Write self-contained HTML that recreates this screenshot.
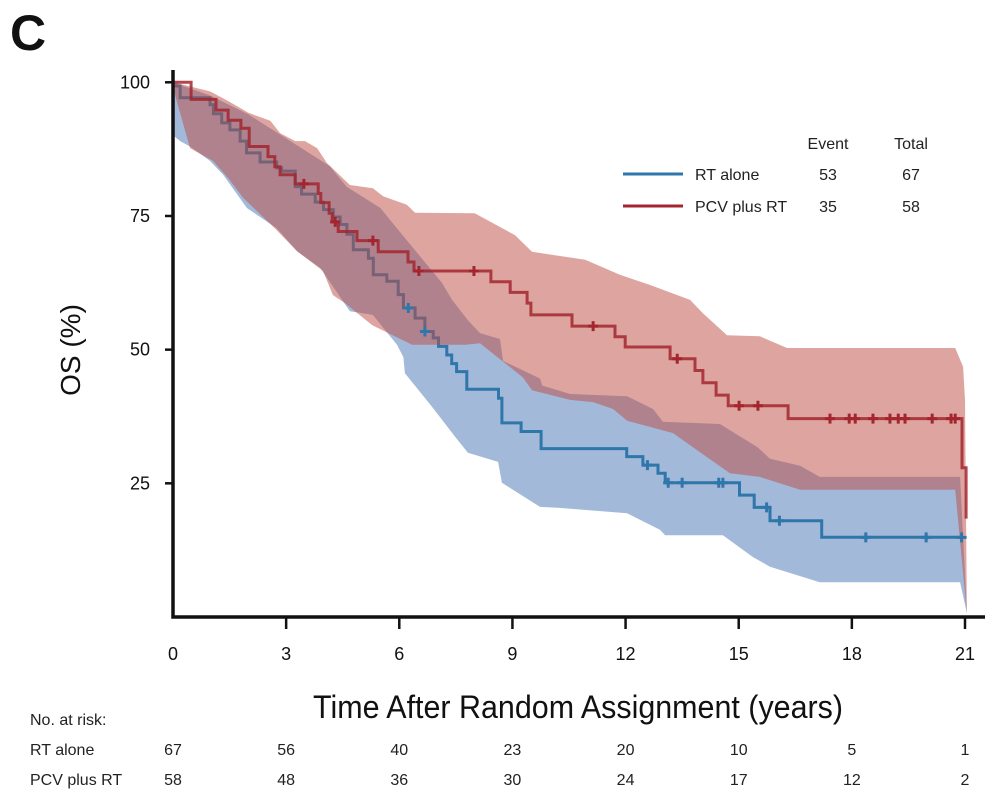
<!DOCTYPE html>
<html><head><meta charset="utf-8">
<style>
html,body{margin:0;padding:0;background:#fff;}
svg{display:block;font-family:"Liberation Sans",Arial,sans-serif;}
</style></head>
<body>
<svg id="chart" width="994" height="798" viewBox="0 0 994 798" xmlns="http://www.w3.org/2000/svg">
<text x="10" y="50" font-size="50" font-weight="bold" fill="#111">C</text>
<g id="plot"></g>
<g id="axes"></g>
<text transform="translate(80,350) rotate(-90)" text-anchor="middle" font-size="28" fill="#111">OS (%)</text>
<text x="313" y="718" font-size="32" fill="#111" textLength="530" lengthAdjust="spacingAndGlyphs">Time After Random Assignment (years)</text>
<g font-size="16" fill="#222">
<text x="828" y="149" text-anchor="middle">Event</text>
<text x="911" y="149" text-anchor="middle">Total</text>
<line x1="623" y1="174" x2="683" y2="174" stroke="#2f77aa" stroke-width="3"/>
<text x="695" y="180">RT alone</text>
<text x="828" y="180" text-anchor="middle">53</text>
<text x="911" y="180" text-anchor="middle">67</text>
<line x1="623" y1="206" x2="683" y2="206" stroke="#a3262f" stroke-width="3"/>
<text x="695" y="212">PCV plus RT</text>
<text x="828" y="212" text-anchor="middle">35</text>
<text x="911" y="212" text-anchor="middle">58</text>
</g>
<g id="risk" font-size="16" fill="#222">
<text x="30" y="725">No. at risk:</text>
<text x="30" y="755">RT alone</text>
<text x="30" y="785">PCV plus RT</text>
</g>
</svg>
<script>
const xTicks=[0,3,6,9,12,15,18,21];
const yTicks=[25,50,75,100];
const riskRT=[67,56,40,23,20,10,5,1];
const riskPCV=[58,48,36,30,24,17,12,2];
// Kaplan-Meier steps: [time, survival after drop]
const redSteps=[[0,100],[0.48,96.8],[1.14,94.8],[1.46,92.9],[1.80,91.4],[2.02,88.0],[2.52,86.1],[2.70,84.2],[2.84,82.7],[3.24,81.0],[3.85,79.2],[3.92,77.5],[4.14,75.5],[4.22,73.9],[4.38,72.1],[4.88,70.4],[5.44,68.3],[6.23,66.4],[6.39,64.7],[8.43,62.7],[8.94,60.7],[9.39,58.7],[9.49,56.5],[10.58,54.4],[11.72,52.4],[11.99,50.5],[13.18,48.3],[13.84,46.1],[14.05,43.8],[14.40,41.5],[14.72,39.5],[16.31,37.1],[20.92,27.9],[21.03,18.4]];
const redEnd=21.03;
const redCensor=[3.47,4.30,5.30,6.52,7.98,11.14,13.37,15.01,15.51,17.42,17.93,18.09,18.56,19.01,19.23,19.41,20.13,20.63,20.74];
const blueSteps=[[0,100],[0.01,99.3],[0.19,97.1],[0.98,95.8],[1.07,94.1],[1.29,92.4],[1.51,91.1],[1.78,89.0],[1.95,86.8],[2.31,85.1],[2.75,84.0],[2.88,83.4],[3.24,80.5],[3.41,79.1],[3.77,77.6],[3.99,76.2],[4.25,74.8],[4.43,73.4],[4.61,71.6],[4.78,68.7],[5.18,67.1],[5.31,64.0],[5.67,62.8],[5.97,60.3],[6.11,57.8],[6.42,55.9],[6.68,53.4],[6.90,52.2],[7.04,50.6],[7.26,49.0],[7.39,47.4],[7.52,45.9],[7.79,42.6],[8.63,40.9],[8.72,36.3],[9.23,34.7],[9.76,31.5],[12.03,30.0],[12.46,28.4],[12.86,26.9],[13.05,25.1],[15.02,22.8],[15.41,20.5],[15.83,18.0],[17.20,14.9]];
const blueEnd=20.95;
const blueCensor=[6.24,6.68,12.58,13.13,13.50,14.47,14.58,15.74,16.08,18.37,19.97,20.91];
// confidence bands [time, value]
const redUpper=[[0,100],[0.98,98.3],[1.46,96.5],[2.0,94.3],[2.58,92.8],[2.84,90.5],[3.24,89.0],[3.5,89.0],[3.82,87.7],[4.08,84.9],[4.69,80.8],[5.3,80.2],[5.57,78.7],[6.2,77.1],[6.42,75.6],[8.0,75.5],[9.07,71.4],[9.52,68.3],[10.93,66.8],[11.85,64.0],[12.65,62.1],[13.71,59.3],[14.05,56.8],[14.69,52.7],[15.56,52.5],[16.28,50.3],[20.74,50.3],[20.95,46.8],[21.0,40.6],[21.05,0.7]];
const redLower=[[0,99],[0.45,87.7],[1.06,85.3],[1.46,82.1],[1.86,78.4],[2.70,72.7],[3.29,68.4],[3.98,64.7],[4.24,60.2],[4.56,58.7],[5.28,54.6],[6.34,50.9],[7.75,50.9],[8.14,51.2],[9.28,44.8],[9.52,42.4],[10.53,40.6],[11.14,40.2],[11.67,38.9],[12.04,36.7],[13.26,34.4],[13.9,31.2],[14.77,26.9],[15.56,26.2],[16.63,23.8],[20.74,23.8],[21.05,0.7]];
const blueUpper=[[0,100],[1.0,97.5],[2.0,94.0],[3.0,89.5],[4.16,84.3],[4.6,80.5],[5.5,76.5],[5.97,72.4],[7.13,62.5],[7.40,59.3],[7.82,55.5],[8.14,53.1],[8.67,52.0],[8.75,47.9],[9.73,44.6],[9.79,43.3],[10.53,41.7],[12.04,41.3],[12.73,38.9],[12.99,36.5],[14.5,36.1],[15.49,31.8],[15.83,29.6],[16.63,28.3],[17.15,26.2],[20.87,26.2],[21.05,0.7]];
const blueLower=[[0,99],[0,90.1],[0.19,89.0],[0.45,88.0],[0.98,85.3],[1.33,82.7],[1.96,76.5],[2.75,72.7],[3.29,68.4],[3.90,65.3],[4.69,57.2],[5.30,56.5],[5.94,50.9],[6.11,48.6],[6.15,45.6],[6.87,39.3],[7.48,33.7],[7.82,30.7],[8.62,29.0],[8.72,25.1],[9.73,20.6],[10.26,20.4],[12.04,19.4],[12.91,16.3],[13.05,15.3],[14.58,15.3],[15.38,11.2],[15.83,9.4],[17.15,6.5],[20.87,6.5],[21.05,0.7]];

const X0=173,X1=965,Y0=617,YPER=5.347;
function xs(t){return X0+t*(X1-X0)/21;}
function ys(v){return Y0-v*YPER;}
const NS='http://www.w3.org/2000/svg';
function mk(tag,attrs,parent){const e=document.createElementNS(NS,tag);for(const k in attrs)e.setAttribute(k,attrs[k]);parent.appendChild(e);return e;}
const plot=document.getElementById('plot');
const axes=document.getElementById('axes');
function bandPath(up,lo){let d='M'+up.map(p=>xs(p[0]).toFixed(1)+','+ys(p[1]).toFixed(1)).join('L');
 d+='L'+lo.slice().reverse().map(p=>xs(p[0]).toFixed(1)+','+ys(p[1]).toFixed(1)).join('L')+'Z';return d;}
function stepPath(steps,end){let d='M'+xs(steps[0][0])+','+ys(steps[0][1]);
 for(let i=1;i<steps.length;i++){d+='H'+xs(steps[i][0]).toFixed(1)+'V'+ys(steps[i][1]).toFixed(1);} d+='H'+xs(end).toFixed(1);return d;}
function valAt(steps,t){let v=steps[0][1];for(const s of steps){if(s[0]<=t)v=s[1];}return v;}
function censors(steps,cs,color,name){cs.forEach(t=>{const x=xs(t),y=ys(valAt(steps,t));
 const g=mk('path',{d:`M${x-5},${y}H${x+5}M${x},${y-5}V${y+5}`,stroke:color,'stroke-width':3},plot);
 
 });}

const bb=mk('path',{d:bandPath(blueUpper,blueLower),fill:'rgb(70,115,180)','fill-opacity':0.5},plot);


const bl=mk('path',{d:stepPath(blueSteps,blueEnd),fill:'none',stroke:'#2f77aa','stroke-width':3},plot);


const rb=mk('path',{d:bandPath(redUpper,redLower),fill:'rgb(190,75,65)','fill-opacity':0.5},plot);


const rl=mk('path',{d:stepPath(redSteps,redEnd),fill:'none',stroke:'#a3262f','stroke-width':3,'stroke-opacity':0.85},plot);


censors(blueSteps,blueCensor,'#2f77aa','censor-mark-rt-alone');
censors(redSteps,redCensor,'#a3262f','censor-mark-pcv-plus-rt');

const ya=mk('path',{d:`M${X0},70V${Y0}H985`,fill:'none',stroke:'#111','stroke-width':3.5},axes);


yTicks.forEach(v=>{const y=ys(v);
 const l=mk('line',{x1:165,x2:X0,y1:y,y2:y,stroke:'#111','stroke-width':2.5},axes);
 
 
 const t=mk('text',{x:150,y:y+6,'text-anchor':'end','font-size':18,fill:'#111'},axes);t.textContent=v;
 
 });
const risk=document.getElementById('risk');
xTicks.forEach((v,i)=>{const x=xs(v);
 if(i>0){const l=mk('line',{x1:x,x2:x,y1:Y0,y2:629,stroke:'#111','stroke-width':2.5},axes);
 
 }
 const t=mk('text',{x:x,y:660,'text-anchor':'middle','font-size':18,fill:'#111'},axes);t.textContent=v;
 
 
 const a=mk('text',{x:x,y:755,'text-anchor':'middle'},risk);a.textContent=riskRT[i];
 
 
 const b=mk('text',{x:x,y:785,'text-anchor':'middle'},risk);b.textContent=riskPCV[i];
 
 });
</script>
</body></html>
